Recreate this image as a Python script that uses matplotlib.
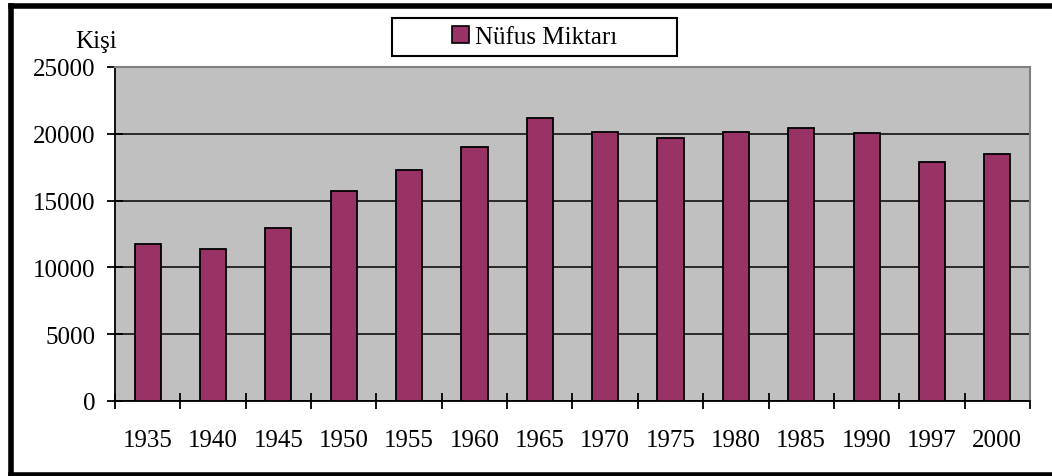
import numpy as np
import matplotlib

matplotlib.use("Agg")
import matplotlib.pyplot as plt
from matplotlib.patches import Rectangle, Patch
from matplotlib.lines import Line2D

years = ["1935", "1940", "1945", "1950", "1955", "1960", "1965",
         "1970", "1975", "1980", "1985", "1990", "1997", "2000"]
population = [11750, 11350, 12950, 15700, 17300, 19000, 21200,
              20150, 19700, 20100, 20450, 20050, 17900, 18500]
y_ticks = [0, 5000, 10000, 15000, 20000, 25000]

plt.rcParams["font.family"] = ["Liberation Serif", "DejaVu Serif"]
FS = 18
BAR = "#993366"

fig = plt.figure(figsize=(10.52, 4.77), dpi=100)
ax = fig.add_axes([115 / 1052, 1 - 402 / 477, 915 / 1052, 334 / 477])
ax.set_facecolor("#C0C0C0")

x = np.arange(len(years))
ax.bar(x, population, width=0.4, color=BAR, edgecolor="black", linewidth=1.3, zorder=3)

ax.set_xlim(-0.5, len(years) - 0.5)
ax.set_ylim(0, 25000)
ax.set_yticks(y_ticks)
ax.set_yticklabels([str(v) for v in y_ticks], fontsize=FS)
ax.yaxis.grid(True, color="black", linewidth=1.1, zorder=1)
ax.set_axisbelow(True)

# ticks at category boundaries, labels at centers
ax.set_xticks(np.arange(-0.5, len(years), 1.0))
ax.set_xticklabels([])
ax.set_xticks(x, minor=True)
ax.set_xticklabels(years, minor=True, fontsize=FS)
ax.tick_params(axis="x", which="major", direction="inout", length=12, width=1.3, color="black")
ax.tick_params(axis="x", which="minor", length=0, pad=20)
ax.tick_params(axis="y", direction="inout", length=12, width=1.3, pad=8)

for s in ["left", "bottom"]:
    ax.spines[s].set_color("black")
    ax.spines[s].set_linewidth(1.3)
for s in ["top", "right"]:
    ax.spines[s].set_color("#808080")
    ax.spines[s].set_linewidth(1.5)

fig.text(117 / 1052, 1 - 42 / 477, "Kişi", fontsize=FS, ha="right", va="center")

# legend box
fig.patches.append(Rectangle((392 / 1052, 1 - 57 / 477), 285 / 1052, 38 / 477,
                             transform=fig.transFigure, facecolor="white",
                             edgecolor="black", linewidth=1.5, zorder=5))
fig.legend(handles=[Patch(facecolor=BAR, edgecolor="black", linewidth=1.2, label="Nüfus Miktarı")],
           loc="center", bbox_to_anchor=(534.5 / 1052, 1 - 38 / 477), frameon=False,
           fontsize=FS, handlelength=0.7, handleheight=0.7, handletextpad=0.25)

# outer frame (left, top, bottom)
for xs, ys in [([11 / 1052, 11 / 1052], [0.003, 1 - 6.5 / 477]),
               ([11 / 1052, 1.0], [1 - 6.5 / 477, 1 - 6.5 / 477]),
               ([11 / 1052, 1.0], [0.003, 0.003])]:
    fig.add_artist(Line2D(xs, ys, color="black", linewidth=4, transform=fig.transFigure))

fig.savefig("out.png", dpi=100)
